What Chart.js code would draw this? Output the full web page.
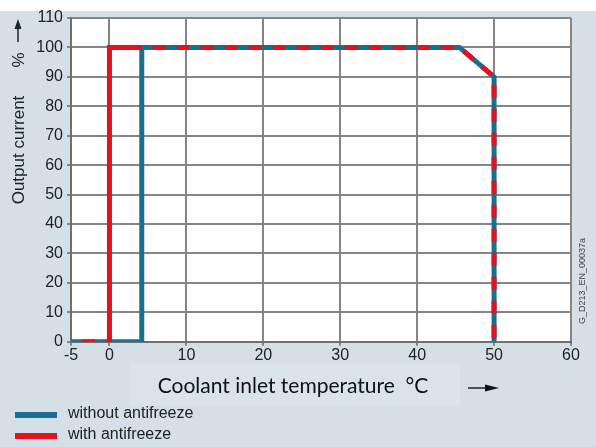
<!DOCTYPE html>
<html>
<head>
<meta charset="utf-8">
<script src="https://cdn.jsdelivr.net/npm/chart.js@4/dist/chart.umd.min.js"></script>
<style>
  html, body { margin: 0; padding: 0; background: #d5dfe8; }
  #wrap { width: 596px; height: 447px; position: relative; }
</style>
</head>
<body>
<div id="wrap"><canvas id="coolantChart" width="596" height="447"></canvas></div>
<script>
// temperature (°C) and output current (%) for each curve
var withoutX = [-5, 0, 4.2, 4.2, 45.5, 50, 50];
var withoutY = [0, 0, 0, 100, 100, 90, 0];
var withX = [-5, 0, 0, 4.2, 45.5, 50, 50];
var withY = [0, 0, 100, 100, 100, 90, 0];
var xTicks = [-5, 0, 10, 20, 30, 40, 50, 60];
var yTicks = [0, 10, 20, 30, 40, 50, 60, 70, 80, 90, 100, 110];
var seriesLabels = ['without antifreeze', 'with antifreeze'];
var seriesColors = ['#1a6e96', '#e5121d'];

function toPoints(xs, ys) {
    return xs.map(function(x, i) { return {x: x, y: ys[i]}; });
}

// red segments that lie on top of the blue curve are drawn dashed
var sharedRedSegments = [0, 3, 4, 5];
var dash = [13, 11];

var decorations = {
    id: 'decorations',
    beforeDraw: function(chart) {
        var ctx = chart.ctx, a = chart.chartArea;
        ctx.save();
        ctx.fillStyle = '#d5dfe8';
        ctx.fillRect(0, 0, chart.width, chart.height);
        ctx.fillStyle = '#ffffff';
        ctx.fillRect(0, 0, chart.width, 11);
        ctx.fillRect(a.left, a.top, a.right - a.left, a.bottom - a.top);
        ctx.fillStyle = '#d9e3ec';
        ctx.fillRect(130, 364, 330, 42);
        ctx.restore();
    },
    afterDraw: function(chart) {
        var ctx = chart.ctx;
        ctx.save();
        ctx.fillStyle = '#222';
        ctx.strokeStyle = '#222';

        // y title
        ctx.save();
        ctx.translate(19, 150);
        ctx.rotate(-Math.PI / 2);
        ctx.font = '17px "Liberation Sans", Arial, sans-serif';
        ctx.textAlign = 'center';
        ctx.textBaseline = 'middle';
        ctx.fillText('Output current', 0, 0);
        ctx.restore();
        ctx.save();
        ctx.translate(19, 60);
        ctx.rotate(-Math.PI / 2);
        ctx.font = '17px "Liberation Sans", Arial, sans-serif';
        ctx.textAlign = 'center';
        ctx.textBaseline = 'middle';
        ctx.fillText('%', 0, 0);
        ctx.restore();
        // up arrow
        ctx.lineWidth = 1.5;
        ctx.beginPath(); ctx.moveTo(18, 42); ctx.lineTo(18, 26); ctx.stroke();
        ctx.beginPath(); ctx.moveTo(18, 19); ctx.lineTo(14.5, 29); ctx.lineTo(21.5, 29); ctx.closePath(); ctx.fill();

        // x title
        ctx.font = '21px Lato, "Open Sans", sans-serif';
        ctx.textAlign = 'center';
        ctx.textBaseline = 'middle';
        ctx.fillStyle = '#111';
        ctx.fillText('Coolant inlet temperature  \u00B0C', 293, 386);
        // right arrow
        ctx.beginPath(); ctx.moveTo(468, 388); ctx.lineTo(488, 388); ctx.stroke();
        ctx.beginPath(); ctx.moveTo(499, 388); ctx.lineTo(485, 384.5); ctx.lineTo(485, 391.5); ctx.closePath(); ctx.fill();

        // drawing number
        ctx.save();
        ctx.translate(583, 281);
        ctx.rotate(-Math.PI / 2);
        ctx.font = '9px "Liberation Sans", Arial, sans-serif';
        ctx.fillStyle = '#444';
        ctx.fillText('G_D213_EN_00037a', 0, 0);
        ctx.restore();

        // legend
        ctx.font = '16px "Liberation Sans", Arial, sans-serif';
        ctx.textAlign = 'left';
        chart.data.datasets.forEach(function(ds, i) {
            var y = 415 + i * 21;
            ctx.fillStyle = ds.borderColor;
            ctx.fillRect(15, y - 3, 42, 6);
            ctx.fillStyle = '#222';
            ctx.fillText(ds.label, 68, y - 1);
        });
        ctx.restore();
    }
};

new Chart(document.getElementById('coolantChart'), {
    type: 'scatter',
    data: {
        datasets: [{
            label: seriesLabels[0],
            data: toPoints(withoutX, withoutY),
            showLine: true,
            order: 2,
            borderColor: seriesColors[0],
            backgroundColor: seriesColors[0],
            borderWidth: 5,
            pointRadius: 0,
            borderJoinStyle: 'miter',
            borderCapStyle: 'butt'
        }, {
            label: seriesLabels[1],
            data: toPoints(withX, withY),
            showLine: true,
            order: 1,
            borderColor: seriesColors[1],
            backgroundColor: seriesColors[1],
            borderWidth: 5,
            pointRadius: 0,
            borderJoinStyle: 'miter',
            borderCapStyle: 'butt',
            borderDash: dash,
            borderDashOffset: 13,
            segment: {
                borderDash: function(c) {
                    return sharedRedSegments.indexOf(c.p0DataIndex) >= 0 ? dash : [];
                }
            }
        }]
    },
    options: {
        responsive: false,
        animation: false,
        layout: { padding: { left: 0, right: 25, top: 18, bottom: 82 } },
        plugins: { legend: { display: false }, tooltip: { enabled: false } },
        scales: {
            x: {
                type: 'linear',
                min: -5, max: 60,
                afterBuildTicks: function(s) { s.ticks = xTicks.map(function(v) { return {value: v}; }); },
                ticks: { color: '#222', font: { size: 16, family: '"Liberation Sans", Arial, sans-serif' }, padding: 0, maxRotation: 0 },
                grid: { color: '#858585', lineWidth: 2, tickLength: 4, tickColor: '#858585' },
                border: { color: '#707070', width: 2 }
            },
            y: {
                type: 'linear',
                min: 0, max: 110,
                afterBuildTicks: function(s) { s.ticks = yTicks.map(function(v) { return {value: v}; }); },
                afterFit: function(s) { s.width = 71; },
                ticks: { color: '#222', font: { size: 16, family: '"Liberation Sans", Arial, sans-serif' }, padding: 4 },
                grid: { color: '#858585', lineWidth: 2, tickLength: 4, tickColor: '#858585' },
                border: { color: '#707070', width: 2 }
            }
        }
    },
    plugins: [decorations]
});
</script>
</body>
</html>
